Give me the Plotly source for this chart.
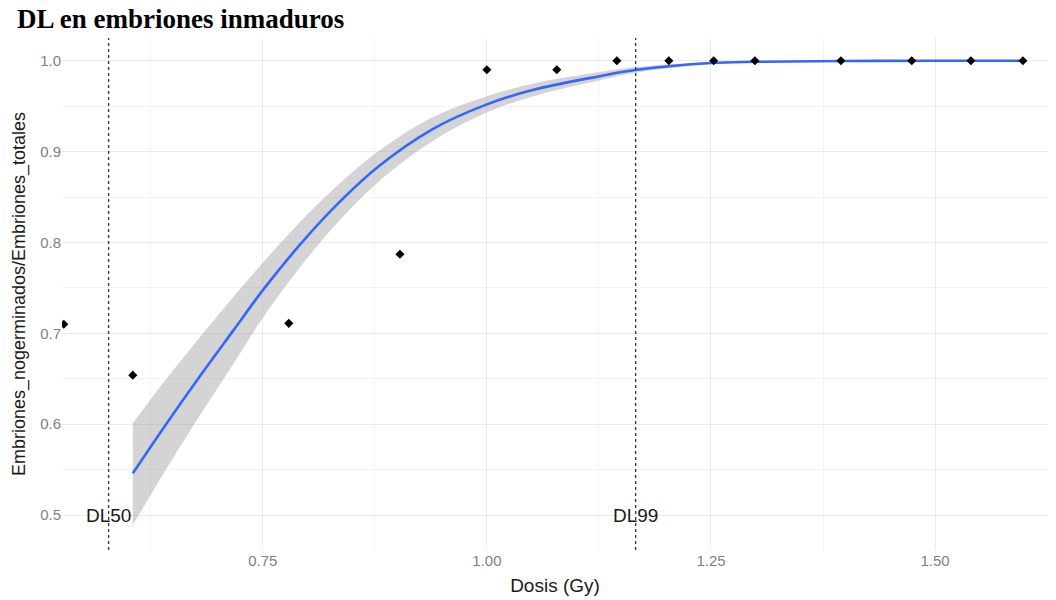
import plotly.graph_objects as go

# Observed data
dose = [0.528, 0.605, 0.779, 0.903, 1.000, 1.078, 1.145, 1.203, 1.253, 1.299, 1.395, 1.474, 1.540, 1.598]
ratio = [0.710, 0.654, 0.711, 0.787, 0.990, 0.990, 1.000, 1.000, 1.000, 1.000, 1.000, 1.000, 1.000, 1.000]

# Fitted curve and confidence band
fit_x = [0.605, 0.640, 0.680, 0.717, 0.752, 0.791, 0.828, 0.877, 0.940, 1.000, 1.052, 1.126, 1.167, 1.250, 1.300, 1.400, 1.500, 1.598]
fit_y = [0.546, 0.597, 0.653, 0.703, 0.750, 0.797, 0.837, 0.882, 0.925, 0.952, 0.968, 0.983, 0.990, 0.9975, 0.9988, 0.9997, 0.9999, 1.000]
fit_hi = [0.601, 0.647, 0.696, 0.740, 0.780, 0.822, 0.858, 0.899, 0.938, 0.961, 0.975, 0.9875, 0.993, 0.9985, 0.9994, 0.9999, 1.000, 1.000]
fit_lo = [0.489, 0.547, 0.610, 0.666, 0.720, 0.772, 0.816, 0.865, 0.912, 0.943, 0.961, 0.9785, 0.987, 0.9965, 0.9982, 0.9995, 0.9998, 1.000]

# Lethal dose markers
dl_names = ["DL50", "DL99"]
dl_values = [0.578, 1.166]
dl_label_y = 0.5

fig = go.Figure()

fig.add_trace(go.Scatter(x=fit_x, y=fit_hi, mode="lines", line=dict(width=0, color="rgba(0,0,0,0)", shape="spline"),
                         showlegend=False, hoverinfo="skip"))
fig.add_trace(go.Scatter(x=fit_x, y=fit_lo, mode="lines", line=dict(width=0, color="rgba(0,0,0,0)", shape="spline"),
                         fill="tonexty", fillcolor="rgba(153,153,153,0.42)", showlegend=False, hoverinfo="skip"))
fig.add_trace(go.Scatter(x=fit_x, y=fit_y, mode="lines", line=dict(color="#3366FF", width=2.6, shape="spline"),
                         showlegend=False))
fig.add_trace(go.Scatter(x=dose, y=ratio, mode="markers",
                         marker=dict(symbol="diamond", size=7, color="black"), showlegend=False))

for name, v in zip(dl_names, dl_values):
    fig.add_shape(type="line", x0=v, x1=v, xref="x", y0=0, y1=1, yref="y domain",
                  line=dict(color="#333333", width=1.3, dash="3px,3px"))
    fig.add_annotation(x=v, y=dl_label_y, xref="x", yref="y", text=name, showarrow=False,
                       font=dict(family="Liberation Sans, Arial", size=19, color="#1a1a1a"),
                       xanchor="center", yanchor="middle")

grid = "#ebebeb"
fig.update_layout(
    width=1056, height=600,
    margin=dict(l=62, r=8, t=38, b=48),
    paper_bgcolor="white", plot_bgcolor="white",
    title=dict(text="<b>DL en embriones inmaduros</b>", x=17/1056, xref="container", xanchor="left",
               y=1 - 19/600, yref="container", yanchor="middle",
               font=dict(family="Liberation Serif, Times New Roman", size=27, color="black")),
    xaxis=dict(range=[0.526, 1.626], tickmode="array", tickvals=[0.75, 1.00, 1.25, 1.50],
               ticktext=["0.75", "1.00", "1.25", "1.50"], showgrid=True, gridcolor=grid, gridwidth=1.2,
               zeroline=False, showline=False, ticks="",
               minor=dict(tickvals=[0.625, 0.875, 1.125, 1.375, 1.625], showgrid=True, gridcolor="#f3f3f3", gridwidth=1),
               tickfont=dict(family="Liberation Sans, Arial", size=15, color="#7f7f7f"),
               title=dict(text="Dosis (Gy)", font=dict(family="Liberation Sans, Arial", size=19, color="#1a1a1a"),
                          standoff=10)),
    yaxis=dict(range=[0.4616, 1.025], tickmode="array", tickvals=[0.5, 0.6, 0.7, 0.8, 0.9, 1.0],
               ticktext=["0.5", "0.6", "0.7", "0.8", "0.9", "1.0"], showgrid=True, gridcolor=grid, gridwidth=1.2,
               zeroline=False, showline=False, ticks="",
               minor=dict(tickvals=[0.55, 0.65, 0.75, 0.85, 0.95], showgrid=True, gridcolor="#f3f3f3", gridwidth=1),
               tickfont=dict(family="Liberation Sans, Arial", size=15, color="#7f7f7f"),
               title=dict(text="Embriones_nogerminados/Embriones_totales",
                          font=dict(family="Liberation Sans, Arial", size=18, color="#1a1a1a"), standoff=9)),
)

fig.write_html("out.html")
